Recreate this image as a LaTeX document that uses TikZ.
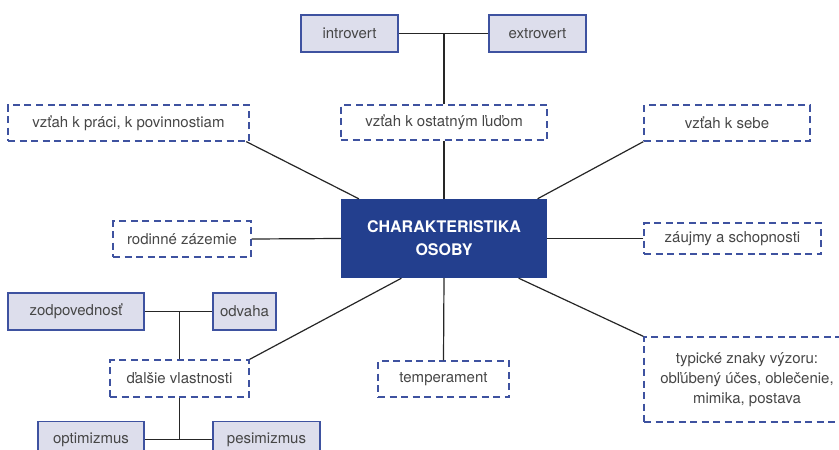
\documentclass[tikz,border=0pt]{standalone}
\usepackage{fontspec}
\setmainfont{TeX Gyre Heros}
\definecolor{dashblue}{RGB}{62,82,160}
\definecolor{darkblue}{RGB}{35,63,142}
\definecolor{lightfill}{RGB}{221,222,236}
\definecolor{textgray}{RGB}{70,70,70}
\begin{document}
\begin{tikzpicture}[x=1pt, y=-1pt, font=\fontsize{15}{20}\selectfont,
	dashbox/.style={draw=dashblue, line width=1.3pt, dash pattern=on 7pt off 4.5pt, text=textgray, inner sep=0pt, align=center},
	fillbox/.style={draw=dashblue, line width=1.3pt, fill=lightfill, text=textgray, inner sep=0pt},
	mainbox/.style={fill=darkblue, text=white, font=\fontsize{16}{23}\selectfont\bfseries, inner sep=0pt, align=center},
	link/.style={draw=black!85, line width=1.2pt}]
	\clip (0,0) rectangle (839,450);
	\node[fillbox, minimum width=97pt,  minimum height=37pt] (introvert)  at (349.5,33.5)  {introvert};
	\node[fillbox, minimum width=97pt,  minimum height=37pt] (extrovert)  at (537.5,33.5)  {extrovert};
	\node[dashbox, minimum width=206pt, minimum height=35pt] (ostatnym)   at (444,122.5)   {vzťah k ostatným ľuďom};
	\node[dashbox, minimum width=241pt, minimum height=36pt] (praca)      at (128.5,123)   {vzťah k práci, k povinnostiam};
	\node[dashbox, minimum width=166pt, minimum height=36pt] (sebe)       at (727,123)     {vzťah k sebe};
	\node[dashbox, minimum width=138pt, minimum height=36pt] (rodinne)    at (182,239)     {rodinné zázemie};
	\node[mainbox, minimum width=206pt, minimum height=79pt] (charak)     at (444,238.5)   {CHARAKTERISTIKA\\OSOBY};
	\node[dashbox, minimum width=177pt, minimum height=31pt] (zaujmy)     at (732.5,238.5) {záujmy a schopnosti};
	\node[dashbox, minimum width=131pt, minimum height=36pt] (temperament) at (443.5,379)  {temperament};
	\node[dashbox, minimum width=206pt, minimum height=85pt] (vyzor)      at (747,379.5)   {typické znaky výzoru:\\obľúbený účes, oblečenie,\\mimika, postava};
	\node[dashbox, minimum width=139pt, minimum height=37pt] (dalsie)     at (179.5,378.5) {ďalšie vlastnosti};
	\node[fillbox, minimum width=136pt, minimum height=37pt] (zodpov)     at (76,311.5)    {zodpovednosť};
	\node[fillbox, minimum width=63pt,  minimum height=37pt] (odvaha)     at (244.5,311.5) {odvaha};
	\node[fillbox, minimum width=106pt, minimum height=36pt] (optimizmus) at (91,439.5)    {optimizmus};
	\node[fillbox, minimum width=107pt, minimum height=36pt] (pesimizmus) at (266.5,439.5) {pesimizmus};
	\draw[link] (introvert.east) -- (extrovert.west);
	\draw[link] (ostatnym.north) -- (ostatnym.north |- introvert.east);
	\draw[link] (ostatnym.south) -- (charak.north);
	\draw[link] (praca.-9) -- (charak.155);
	\draw[link] (sebe.south west) -- (charak.23);
	\draw[link] (rodinne.east) -- (charak.west);
	\draw[link] (zaujmy.west) -- (charak.east);
	\draw[link] (temperament.north) -- (charak.south);
	\draw[link] (vyzor.north west) -- (charak.-28);
	\draw[link] (dalsie.north east) -- (charak.223);
	\draw[link] (zodpov.east) -- (odvaha.west);
	\draw[link] (dalsie.north) -- (dalsie.north |- zodpov.east);
	\draw[link] (optimizmus.east) -- (pesimizmus.west);
	\draw[link] (dalsie.south) -- (dalsie.south |- optimizmus.east);
\end{tikzpicture}
\end{document}
